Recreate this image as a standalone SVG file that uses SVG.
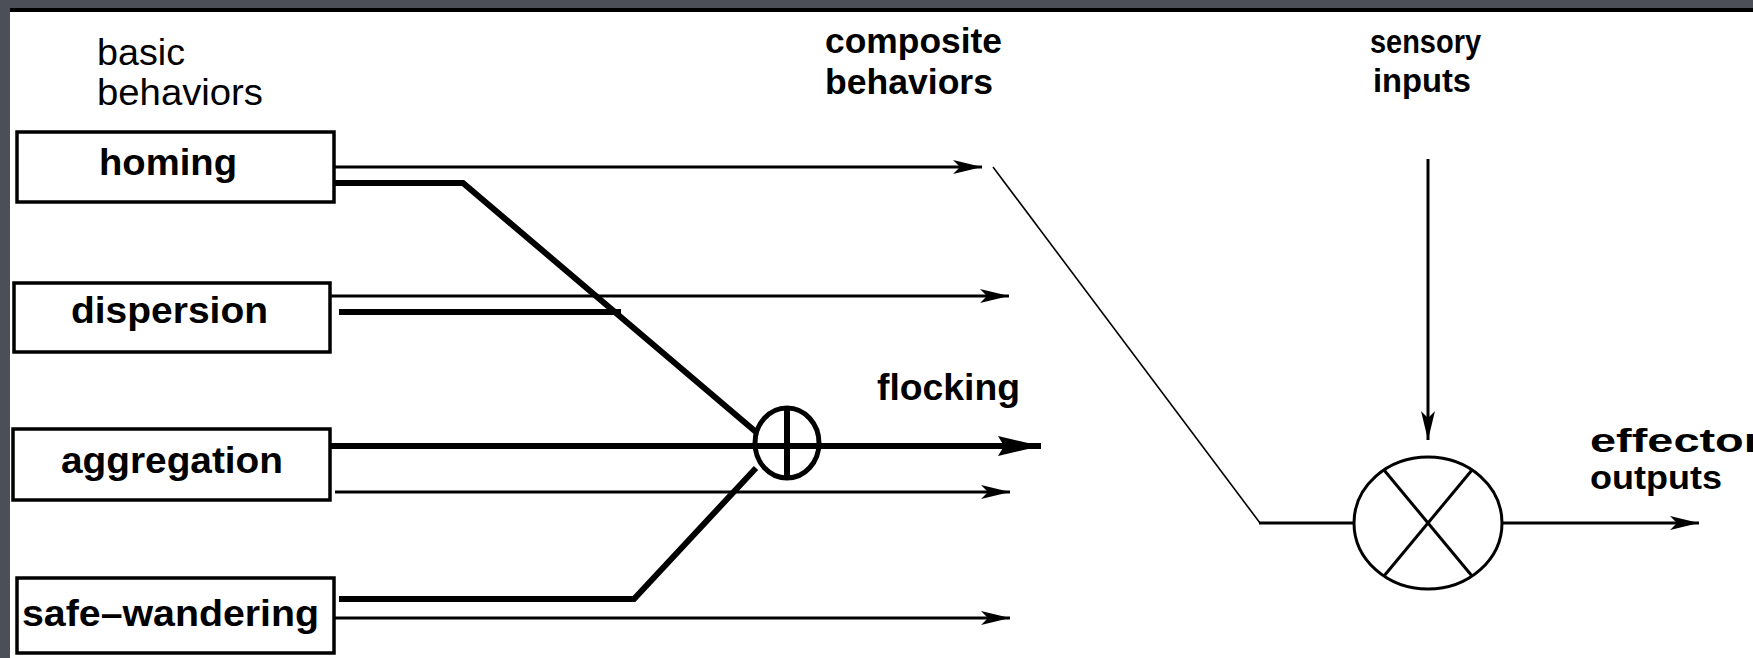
<svg xmlns="http://www.w3.org/2000/svg" width="1753" height="658" viewBox="0 0 1753 658">
<style>
.bg{fill:#4c4f58}
.paper{fill:#ffffff}
.box{fill:#ffffff;stroke:#000000;stroke-width:3.5}
.lbl{font-family:"Liberation Sans",Arial,sans-serif;font-weight:bold;font-size:37px;fill:#000000}
.hdr{font-family:"Liberation Sans",Arial,sans-serif;font-size:36px;fill:#000000}
.hdrb{font-family:"Liberation Sans",Arial,sans-serif;font-weight:bold;font-size:35px;fill:#000000}
.hdrs{font-family:"Liberation Sans",Arial,sans-serif;font-weight:bold;font-size:33px;fill:#000000}
.thin{stroke:#000000;stroke-width:3;fill:none}
.thick{stroke:#000000;stroke-width:6;fill:none}
.hair{stroke:#000000;stroke-width:1.6;fill:none}
.op{fill:none;stroke:#000000}
</style>
<defs>
<marker id="arr" markerUnits="userSpaceOnUse" viewBox="0 0 30 16" markerWidth="30" markerHeight="16" refX="29" refY="8" orient="auto">
<path d="M0,1 L29,8 L0,15 L7,8 Z" fill="#000000"/>
</marker>
<marker id="arrBig" markerUnits="userSpaceOnUse" viewBox="0 0 44 22" markerWidth="44" markerHeight="22" refX="43" refY="11" orient="auto">
<path d="M0,1 L43,11 L0,21 L6,11 Z" fill="#000000"/>
</marker>
</defs>
<rect class="bg" x="0" y="0" width="1753" height="658"/>
<rect class="paper" x="10" y="8" width="1743" height="650"/>
<rect x="10" y="8" width="1743" height="4" fill="#000000"/>

<g id="header-basic">
<text class="hdr" x="97" y="65" textLength="88" lengthAdjust="spacingAndGlyphs">basic</text>
<text class="hdr" x="97" y="105" textLength="166" lengthAdjust="spacingAndGlyphs">behaviors</text>
</g>
<g id="header-composite">
<text class="hdrb" x="825" y="53" textLength="177" lengthAdjust="spacingAndGlyphs">composite</text>
<text class="hdrb" x="825" y="94" textLength="168" lengthAdjust="spacingAndGlyphs">behaviors</text>
</g>
<g id="header-sensory">
<text class="hdrs" x="1370" y="53" textLength="111" lengthAdjust="spacingAndGlyphs">sensory</text>
<text class="hdrs" x="1373" y="92" textLength="98" lengthAdjust="spacingAndGlyphs">inputs</text>
</g>

<g id="connectors">
<path class="thin" d="M334,167 H982" marker-end="url(#arr)"/>
<path class="thick" d="M334,183 H463 L756,432"/>
<path class="thin" d="M330,296 H1009" marker-end="url(#arr)"/>
<path class="thick" d="M339,312 H621"/>
<path class="thick" d="M330,446 H1041" marker-end="url(#arrBig)"/>
<path class="thin" d="M335,492 H1010" marker-end="url(#arr)"/>
<path class="thick" d="M339,599 H634 L756,468"/>
<path class="thin" d="M334,618 H1010" marker-end="url(#arr)"/>
<path class="hair" d="M993,167 L1260,523"/>
<path class="thin" d="M1259,523 H1354"/>
<path class="thin" d="M1428,159 V440" marker-end="url(#arr)"/>
<path class="thin" d="M1502,523 H1699" marker-end="url(#arr)"/>
</g>

<g id="homing">
<rect class="box" x="17" y="132" width="317" height="70"/>
<text class="lbl" x="99" y="175" textLength="138" lengthAdjust="spacingAndGlyphs">homing</text>
</g>
<g id="dispersion">
<rect class="box" x="14" y="283" width="316" height="69"/>
<text class="lbl" x="71" y="323" textLength="197" lengthAdjust="spacingAndGlyphs">dispersion</text>
</g>
<g id="aggregation">
<rect class="box" x="13" y="429" width="317" height="71"/>
<text class="lbl" x="61" y="473" textLength="222" lengthAdjust="spacingAndGlyphs">aggregation</text>
</g>
<g id="safe-wandering">
<rect class="box" x="17" y="578" width="317" height="75"/>
<text class="lbl" x="22" y="626" textLength="297" lengthAdjust="spacingAndGlyphs">safe–wandering</text>
</g>

<g id="flocking">
<ellipse class="op" cx="787" cy="443" rx="32" ry="35" stroke-width="5"/>
<line x1="787" y1="408" x2="787" y2="478" stroke="#000000" stroke-width="6"/>
<text class="lbl" x="877" y="400" textLength="143" lengthAdjust="spacingAndGlyphs">flocking</text>
</g>

<g id="multiplier">
<ellipse class="op" cx="1428" cy="523" rx="74" ry="66" stroke-width="3"/>
<line x1="1384" y1="470" x2="1472" y2="576" stroke="#000000" stroke-width="3"/>
<line x1="1472" y1="470" x2="1384" y2="576" stroke="#000000" stroke-width="3"/>
</g>

<g id="effector">
<text class="hdrs" x="1590" y="452" textLength="172" lengthAdjust="spacingAndGlyphs">effector</text>
<text class="hdrs" x="1590" y="489" textLength="132" lengthAdjust="spacingAndGlyphs">outputs</text>
</g>
</svg>
